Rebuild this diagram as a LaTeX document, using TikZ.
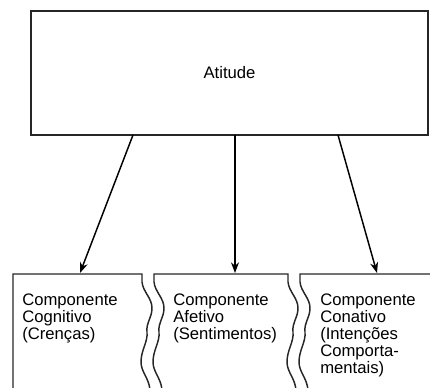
\documentclass[tikz,border=0pt]{standalone}
\usepackage{fontspec}
\setmainfont{Liberation Sans}
\usetikzlibrary{arrows.meta}

\tikzset{
  boxline/.style={line width=1.1pt, draw=black!85},
  comptext/.style={anchor=north west, align=left, inner sep=0pt,
    font=\fontsize{12.5}{12.6}\selectfont},
  seta/.style={line width=1.1pt, -{Stealth[length=8pt,width=6pt]}}
}

\begin{document}
\begin{tikzpicture}[x=0.75pt,y=-0.75pt]
        \useasboundingbox (0,0) rectangle (430,387);
        \clip (0,0) rectangle (430,387);

        % Top box.
        \node[boxline, draw, minimum width=397*0.75pt, minimum height=124*0.75pt,
          inner sep=0pt, font=\fontsize{12.5}{14}\selectfont] (atitude) at (229.5,73) {Atitude};

        % Bottom boxes, open at the bottom, torn (wavy) edges.
        \draw [boxline] (13,390) -- (13,274) -- (142,274) -- (142,282)
          .. controls (143,292) and (152,298) .. (152,308)
          .. controls (152,318) and (146,322) .. (147,332)
          .. controls (148,342) and (141,350) .. (141,362)
          .. controls (141,372) and (149,378) .. (150,390);
        \draw [boxline] (162,390)
          .. controls (161,378) and (153,372) .. (153,362)
          .. controls (153,350) and (160,342) .. (159,332)
          .. controls (158,322) and (164,318) .. (164,308)
          .. controls (164,298) and (155,292) .. (154,282)
          -- (154,274) -- (288,274) -- (288,282)
          .. controls (289,292) and (298,298) .. (298,308)
          .. controls (298,318) and (292,322) .. (293,332)
          .. controls (294,342) and (287,350) .. (287,362)
          .. controls (287,372) and (295,378) .. (296,390);
        \draw [boxline] (308,390)
          .. controls (307,378) and (299,372) .. (299,362)
          .. controls (299,350) and (306,342) .. (305,332)
          .. controls (304,322) and (310,318) .. (310,308)
          .. controls (310,298) and (301,292) .. (300,282)
          -- (300,274) -- (440,274);

        % Texts of the components.
        \node[comptext] (cog) at (22,294) {Componente\\Cognitivo\\(Crenças)};
        \node[comptext] (afe) at (173,294) {Componente\\Afetivo\\(Sentimentos)};
        \node[comptext] (con) at (320,294) {Componente\\Conativo\\(Intenções\\Comporta-\\mentais)};

        % Arrow ends.
        \coordinate (attL) at (133,135);
        \coordinate (attM) at (235,135);
        \coordinate (attR) at (338,135);
        \coordinate (cogtop) at (80,273);
        \coordinate (afetop) at (235,273);
        \coordinate (contop) at (377,273);

        \draw [seta] (attL) -- (cogtop);
        \draw [seta] (attM) -- (afetop);
        \draw [seta] (attR) -- (contop);
\end{tikzpicture}
\end{document}
